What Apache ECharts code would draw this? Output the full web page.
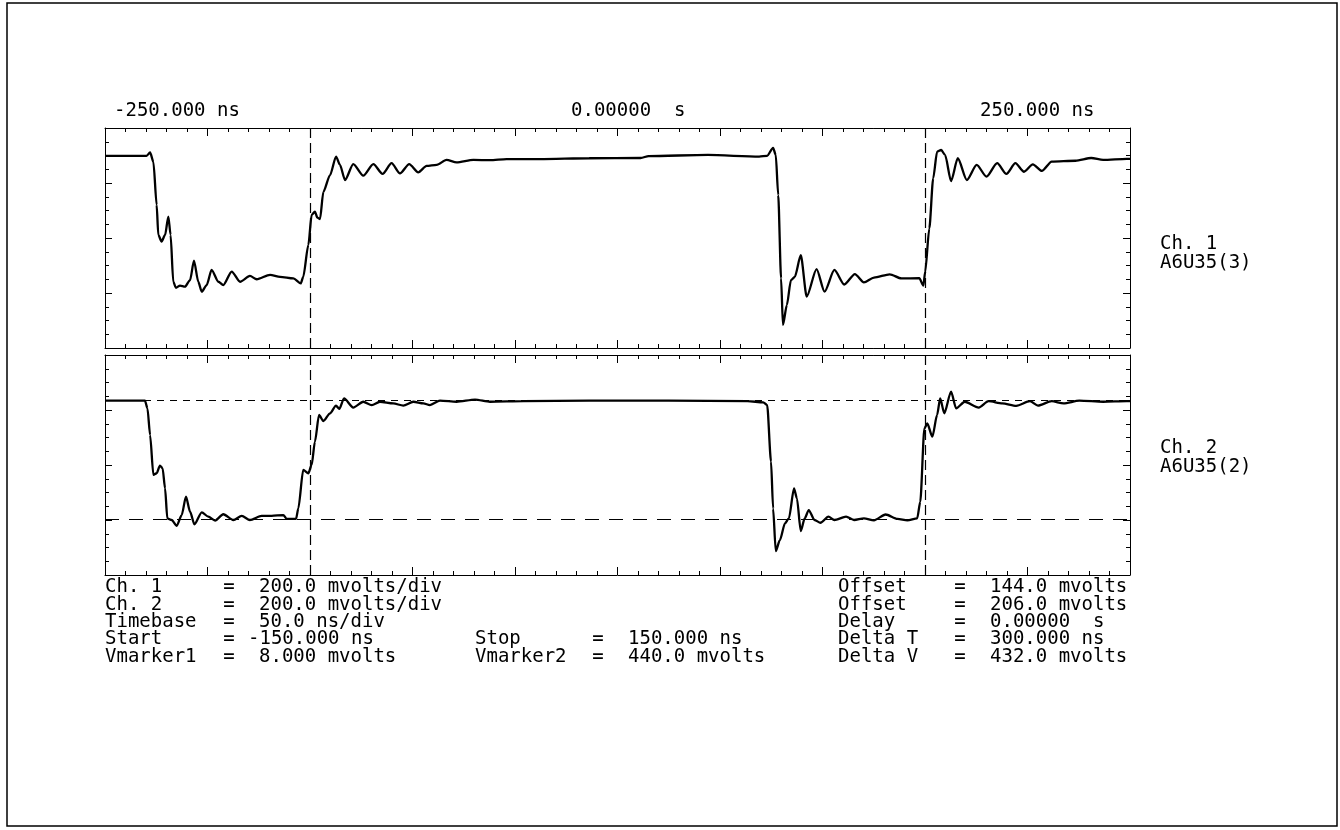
<!DOCTYPE html>
<html>
<head>
<meta charset="utf-8">
<title>A6U35 scope capture</title>
<script src="https://cdn.jsdelivr.net/npm/echarts@6/dist/echarts.min.js"></script>
<style>
  html, body { margin: 0; padding: 0; background: #fff; }
  #scope { width: 1340px; height: 830px; }
</style>
</head>
<body>
<div id="scope"></div>
<script>
// time base: -250 ns .. 250 ns, 50 ns/div
var timeMin = -250, timeMax = 250, timeDiv = 50;
var voltsDiv = 200;
var ch1Offset = 144, ch2Offset = 206;
var startNs = -150, stopNs = 150;
var vmarker1 = 8, vmarker2 = 440;

// Ch. 1 A6U35(3), ns / mV
var ch1Time = [-250, -229.7, -228.0, -226.4, -224.8, -224.0, -222.4, -220.7, -219.1, -218.0,
  -216.7, -215.4, -213.4, -211.0, -208.5, -206.6, -204.5, -202.8, -200.4, -198.0,
  -194.7, -192.3, -188.2, -184.1, -179.3, -176.0, -169.5, -164.6, -158.1, -154.5,
  -153.3, -150.8, -149.2, -147.6, -146.4, -145.1, -143.5, -140.2, -137.3, -135.4,
  -132.9, -128.9, -124.0, -119.1, -114.6, -110.2, -106.1, -101.6, -97.2, -93.1,
  -88.2, -83.4, -78.5, -70.3, -62.2, -54.1, -37.8, -13.8, 11.3, 15.2,
  44.1, 69.1, 73.0, 75.9, 77.2, 78.4, 79.8, 80.7, 82.6, 84.6,
  86.5, 89.4, 92.3, 97.1, 101.0, 105.8, 110.6, 115.8, 120.2, 125.1,
  132.8, 138.5, 147.2, 149.2, 150.1, 152.1, 154.0, 155.9, 157.9, 159.8,
  162.7, 166.0, 170.4, 175.2, 180.0, 185.2, 189.7, 194.1, 198.3, 202.6,
  207.0, 211.8, 223.4, 231.1, 236.9, 248.4, 250];
var ch1Volts = [443, 443, 455, 421, 264, 155, 131, 155, 222, 155,
  -15, -37, -29, -33, -9, 62, -15, -51, -27, 28,
  -15, -27, 22, -15, 6, -6, 10, 3, -3, -21,
  3, 119, 228, 240, 218, 213, 312, 373, 440, 410,
  355, 413, 371, 413, 377, 416, 379, 413, 383, 406,
  410, 428, 419, 428, 427, 431, 431, 434, 435, 442,
  446, 440, 443, 472, 446, 300, -3, -172, -100, -9,
  3, 82, -69, 31, -51, 28, -25, 13, -17, 0,
  12, -3, -2, -29, 22, 179, 361, 458, 464, 446,
  351, 434, 355, 410, 367, 416, 377, 416, 385, 412,
  388, 422, 425, 435, 428, 432, 432];

// Ch. 2 A6U35(2)
var ch2Time = [-250, -230.5, -229.3, -228.0, -226.4, -224.8, -223.2, -221.9, -220.7, -219.6,
  -217.5, -215.0, -212.6, -210.5, -208.5, -206.4, -202.8, -199.6, -196.3, -192.3,
  -187.4, -183.3, -179.3, -173.6, -168.7, -163.0, -161.4, -156.8, -155.7, -153.3,
  -150.8, -149.2, -147.6, -145.6, -143.5, -140.2, -137.3, -135.7, -133.4, -128.9,
  -124.0, -119.9, -115.9, -109.4, -104.5, -99.6, -94.7, -91.5, -86.6, -78.5,
  -69.5, -62.2, -45.9, -13.8, 24.8, 63.4, 71.1, 73.0, 74.9, 75.9,
  77.2, 79.2, 81.7, 83.6, 86.1, 87.5, 89.4, 91.3, 93.3, 96.1,
  99.0, 102.9, 105.8, 111.5, 115.4, 120.2, 125.1, 130.8, 136.6, 141.4,
  146.2, 147.7, 149.7, 151.1, 153.6, 155.9, 157.4, 159.4, 162.7, 165.2,
  169.4, 176.2, 181.0, 187.7, 194.5, 201.2, 205.1, 211.8, 217.6, 225.3,
  236.9, 248.4, 250];
var ch2Volts = [440, 440, 412, 315, 170, 176, 204, 194, 121, 12,
  6, -15, 24, 91, 36, -10, 34, 18, 4, 27,
  6, 21, 6, 21, 21, 24, 10, 10, 48, 188,
  176, 206, 291, 388, 366, 394, 422, 410, 448, 415,
  436, 424, 436, 430, 422, 436, 430, 424, 440, 436,
  444, 436, 438, 440, 440, 438, 434, 424, 218, 48,
  -107, -67, -6, 12, 121, 85, -34, 12, 42, 6,
  -4, 18, 6, 18, 6, 12, 5, 26, 10, 5,
  12, 73, 339, 357, 309, 388, 448, 394, 473, 412,
  436, 415, 438, 430, 421, 438, 422, 438, 430, 440,
  436, 438, 438];

var topLabels = ['-250.000 ns', '0.00000  s', '250.000 ns'];
var chLabels = [['Ch. 1', 'A6U35(3)'], ['Ch. 2', 'A6U35(2)']];
var infoLeft = [
  ['Ch. 1', '200.0 mvolts/div'],
  ['Ch. 2', '200.0 mvolts/div'],
  ['Timebase', '50.0 ns/div'],
  ['Start', '-150.000 ns'],
  ['Vmarker1', '8.000 mvolts']
];
var infoMid = [['Stop', '150.000 ns'], ['Vmarker2', '440.0 mvolts']];
var infoRight = [
  ['Offset', '144.0 mvolts'],
  ['Offset', '206.0 mvolts'],
  ['Delay', '0.00000  s'],
  ['Delta T', '300.000 ns'],
  ['Delta V', '432.0 mvolts']
];

var FONT = '19px "DejaVu Sans Mono", monospace';
var INK = '#000';

function zip(xs, ys) {
  return xs.map(function (x, i) { return [x, ys[i]]; });
}

function timeAxis(grid, pos) {
  return {
    type: 'value', gridIndex: grid, position: pos,
    min: timeMin, max: timeMax, interval: timeDiv,
    axisLine: { show: true, onZero: false, lineStyle: { color: INK, width: 1 } },
    axisTick: { inside: true, length: 8, lineStyle: { color: INK } },
    minorTick: { show: true, splitNumber: 5, length: 4, lineStyle: { color: INK } },
    axisLabel: { show: false },
    splitLine: { show: false }
  };
}

function voltAxis(grid, pos, offset) {
  return {
    type: 'value', gridIndex: grid, position: pos,
    min: offset - 2 * voltsDiv, max: offset + 2 * voltsDiv, interval: voltsDiv,
    axisLine: { show: true, onZero: false, lineStyle: { color: INK, width: 1 } },
    axisTick: { inside: true, length: 7, lineStyle: { color: INK } },
    minorTick: { show: true, splitNumber: 4, length: 4, lineStyle: { color: INK } },
    axisLabel: { show: false },
    splitLine: { show: false }
  };
}

function trace(idx, data, hLines) {
  var marks = [{ xAxis: startNs }, { xAxis: stopNs }];
  return {
    type: 'line',
    xAxisIndex: idx * 2, yAxisIndex: idx * 2,
    data: data,
    showSymbol: false,
    smooth: 0.25,
    smoothMonotone: 'x',
    lineStyle: { color: INK, width: 2.3 },
    markLine: {
      silent: true, symbol: 'none', animation: false,
      label: { show: false },
      lineStyle: { color: INK, width: 1.2, type: [10, 5] },
      data: marks.concat(hLines)
    }
  };
}

// bits of text round the plot
function txt(x, y, s, align) {
  return {
    type: 'text', x: x, y: y, silent: true,
    style: { text: s, fill: INK, font: FONT, textAlign: align || 'left', textVerticalAlign: 'middle' }
  };
}

var graphics = [
  { type: 'rect', silent: true, shape: { x: 7, y: 3, width: 1330, height: 823 },
    style: { fill: null, stroke: INK, lineWidth: 1.5 } },
  txt(114, 111, topLabels[0]),
  txt(571, 111, topLabels[1]),
  txt(980, 111, topLabels[2]),
  txt(1160, 244, chLabels[0][0]),
  txt(1160, 263, chLabels[0][1]),
  txt(1160, 448, chLabels[1][0]),
  txt(1160, 467, chLabels[1][1])
];
var rowY = [587, 605, 622, 639, 657];
infoLeft.forEach(function (r, i) {
  graphics.push(txt(105, rowY[i], r[0]));
  graphics.push(txt(229, rowY[i], '=', 'center'));
  graphics.push(txt(r[1].charAt(0) === '-' ? 248 : 259, rowY[i], r[1]));
});
infoMid.forEach(function (r, i) {
  graphics.push(txt(475, rowY[i + 3], r[0]));
  graphics.push(txt(598, rowY[i + 3], '=', 'center'));
  graphics.push(txt(628, rowY[i + 3], r[1]));
});
infoRight.forEach(function (r, i) {
  graphics.push(txt(838, rowY[i], r[0]));
  graphics.push(txt(960, rowY[i], '=', 'center'));
  graphics.push(txt(990, rowY[i], r[1]));
});

var chart = echarts.init(document.getElementById('scope'), null, { renderer: 'canvas' });
chart.setOption({
  backgroundColor: '#fff',
  animation: false,
  grid: [
    { left: 105, top: 128, width: 1025, height: 220 },
    { left: 105, top: 355, width: 1025, height: 220 }
  ],
  xAxis: [timeAxis(0, 'bottom'), timeAxis(0, 'top'), timeAxis(1, 'bottom'), timeAxis(1, 'top')],
  yAxis: [
    voltAxis(0, 'left', ch1Offset), voltAxis(0, 'right', ch1Offset),
    voltAxis(1, 'left', ch2Offset), voltAxis(1, 'right', ch2Offset)
  ],
  series: [
    trace(0, zip(ch1Time, ch1Volts), []),
    trace(1, zip(ch2Time, ch2Volts), [
      { yAxis: vmarker2, lineStyle: { type: [7, 6], width: 1 } },
      { yAxis: vmarker1, lineStyle: { type: [14, 10], width: 1 } }
    ])
  ],
  graphic: graphics
});
</script>
</body>
</html>
